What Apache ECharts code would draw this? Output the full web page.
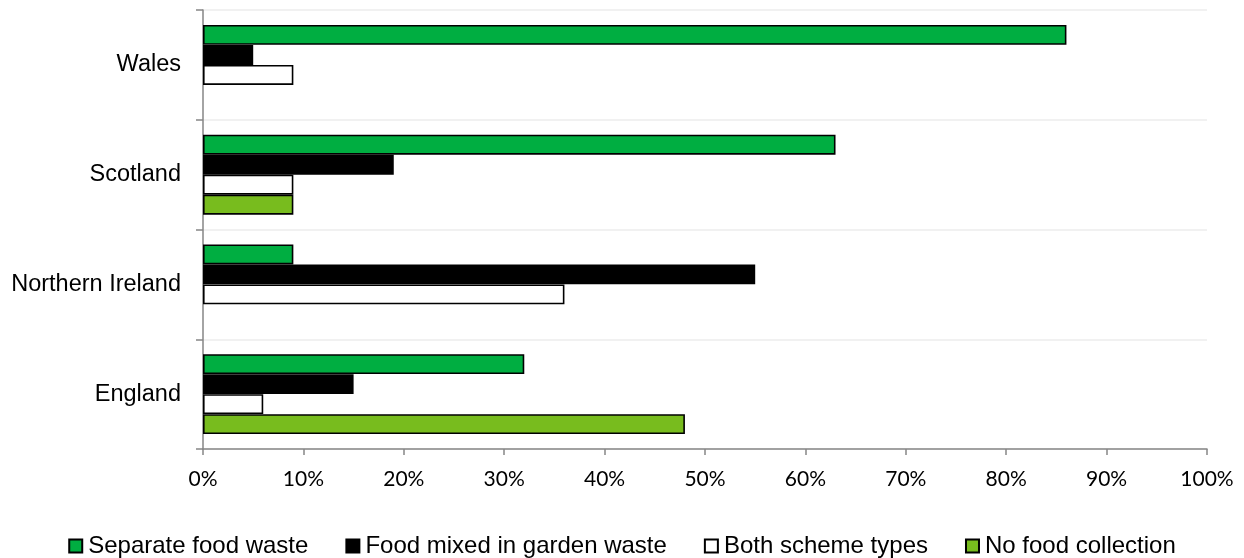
<!DOCTYPE html>
<html>
<head>
<meta charset="utf-8">
<script src="https://cdn.jsdelivr.net/npm/echarts@6/dist/echarts.min.js"></script>
<style>html,body{margin:0;padding:0;background:#fff;}#c{width:1244px;height:558px;}</style>
</head>
<body>
<div id="c"></div>
<script>
const categories = ['England', 'Northern Ireland', 'Scotland', 'Wales'];
const separateFood = [32, 9, 63, 86];
const mixedGarden = [15, 55, 19, 5];
const bothSchemes = [6, 36, 9, 9];
const noCollection = [48, null, 9, null];
const xTicks = [0, 10, 20, 30, 40, 50, 60, 70, 80, 90, 100];

const chart = echarts.init(document.getElementById('c'));
const border = { borderColor: '#000', borderWidth: 1.6 };
function s(name, data, color) {
  return { name, type: 'bar', data, barWidth: 20, barGap: '0%',
    itemStyle: Object.assign({ color }, border) };
}
chart.setOption({
  animation: false,
  grid: { left: 203, right: 37, top: 10, bottom: 109, containLabel: false },
  legend: {
    left: 'center', top: 529, itemWidth: 13, itemHeight: 13, itemGap: 37, icon: 'rect',
    textStyle: { fontFamily: 'Arial, "Liberation Sans"', fontSize: 24, color: '#000', padding: [0, 0, 0, 1] },
    data: ['Separate food waste', 'Food mixed in garden waste', 'Both scheme types', 'No food collection']
  },
  xAxis: {
    type: 'value', min: xTicks[0], max: xTicks[xTicks.length - 1], interval: 10,
    axisLine: { show: true, lineStyle: { color: '#868686', width: 1.5 } },
    axisTick: { show: true, length: 6, lineStyle: { color: '#868686', width: 1.5 } },
    splitLine: { show: false },
    axisLabel: { formatter: '{value}%', fontFamily: 'Lato', fontSize: 21, color: '#000', margin: 20 }
  },
  yAxis: {
    type: 'category', data: categories,
    axisLine: { show: true, lineStyle: { color: '#868686', width: 1.5 } },
    axisTick: { show: true, length: 7, lineStyle: { color: '#868686', width: 1.5 } },
    splitLine: { show: true, lineStyle: { color: '#ECECEC', width: 1.5 } },
    axisLabel: { fontFamily: 'Arial, "Liberation Sans"', fontSize: 23.5, color: '#000', margin: 22 }
  },
  series: [
    s('Separate food waste', separateFood, '#00AE41'),
    s('Food mixed in garden waste', mixedGarden, '#000000'),
    s('Both scheme types', bothSchemes, '#FFFFFF'),
    s('No food collection', noCollection, '#78BC1E')
  ]
});
</script>
</body>
</html>
